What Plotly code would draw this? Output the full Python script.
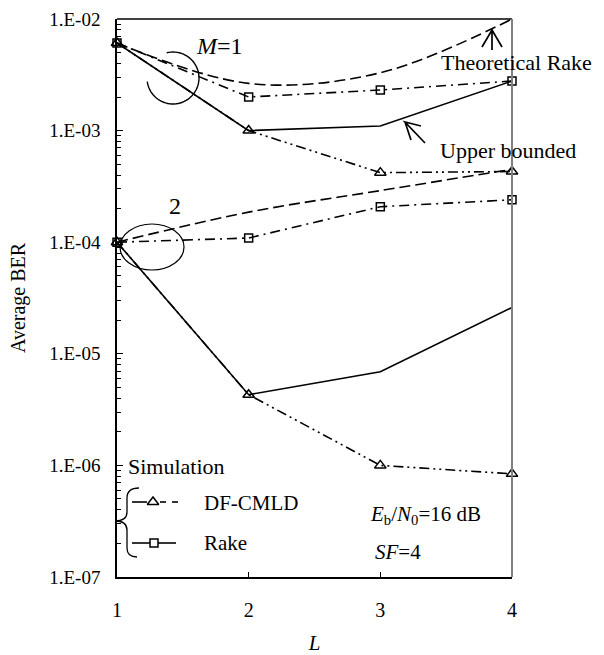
import numpy as np
import plotly.graph_objects as go

# ---------------- data ----------------
L = [1, 2, 3, 4]
# M = 1
theo_rake_m1 = [6.1e-3, 2.65e-3, 3.3e-3, 1.0e-2]
upper_m1 = [6.1e-3, 1.0e-3, 1.1e-3, 2.78e-3]
sim_rake_m1 = [6.1e-3, 2.0e-3, 2.31e-3, 2.78e-3]
sim_df_m1 = [6.1e-3, 1.0e-3, 4.2e-4, 4.3e-4]
# M = 2
theo_rake_m2 = [1.0e-4, 1.86e-4, 2.9e-4, 4.5e-4]
upper_m2 = [1.0e-4, 4.3e-6, 6.9e-6, 2.6e-5]
sim_rake_m2 = [1.0e-4, 1.09e-4, 2.08e-4, 2.4e-4]
sim_df_m2 = [1.0e-4, 4.3e-6, 1.0e-6, 8.4e-7]

ytick_vals = [1e-7, 1e-6, 1e-5, 1e-4, 1e-3, 1e-2]
ytick_text = ["1.E-07", "1.E-06", "1.E-05", "1.E-04", "1.E-03", "1.E-02"]
xtick_vals = [1, 2, 3, 4]

# ---------------- geometry helpers ----------------
W, H = 604, 655
PL, PR, PT, PB = 117, 512, 19, 577
FONT = "'Liberation Serif', 'Times New Roman', Times, serif"


def pp(x, y):
    return ((x - PL) / (PR - PL), (PB - y) / (PB - PT))


def path(cmds):
    out = []
    for c in cmds:
        op = c[0]
        pts = c[1:]
        s = op
        for i in range(0, len(pts), 2):
            u, v = pp(pts[i], pts[i + 1])
            s += f" {u:.5f},{v:.5f}"
        out.append(s)
    return " ".join(out)


fig = go.Figure()

DASH = "11px,5px"
DASHDOT = "10px,5px,2px,5px"
DASHDOTDOT = "10px,4px,2px,4px,2px,4px"
LW = 1.6


def add(y, dash, shape="linear", marker=None):
    kw = {}
    if marker:
        kw["marker"] = dict(symbol=marker[0], size=marker[1], color="black",
                            line=dict(width=1.5, color="black"))
        mode = "lines+markers"
    else:
        mode = "lines"
    fig.add_trace(go.Scatter(x=L, y=y, mode=mode,
                             line=dict(color="black", width=LW, dash=dash, shape=shape),
                             cliponaxis=False, showlegend=False, **kw))


for grp in [(theo_rake_m1, upper_m1, sim_rake_m1, sim_df_m1),
            (theo_rake_m2, upper_m2, sim_rake_m2, sim_df_m2)]:
    th, up, sr, sd = grp
    add(th, DASH, shape="spline")
    add(up, "solid")
    add(sr, DASHDOT, marker=("square-open", 8))
    add(sd, DASHDOTDOT, marker=("triangle-up-open", 10))

# legend sample markers on an overlay axis (paper-like 0..1)
lx_tri, ly_tri = pp(153, 502)
lx_sq, ly_sq = pp(154, 543)
fig.add_trace(go.Scatter(x=[lx_tri], y=[ly_tri], xaxis="x2", yaxis="y2", mode="markers",
                         marker=dict(symbol="triangle-up-open", size=10, color="black",
                                     line=dict(width=1.5, color="black")),
                         cliponaxis=False, showlegend=False))
fig.add_trace(go.Scatter(x=[lx_sq], y=[ly_sq], xaxis="x2", yaxis="y2", mode="markers",
                         marker=dict(symbol="square-open", size=8, color="black",
                                     line=dict(width=1.5, color="black")),
                         cliponaxis=False, showlegend=False))

shapes = []


def line_shape(x0, y0, x1, y1, width=1.6, color="black"):
    a = pp(x0, y0)
    b = pp(x1, y1)
    shapes.append(dict(type="line", xref="paper", yref="paper",
                       x0=a[0], y0=a[1], x1=b[0], y1=b[1],
                       line=dict(color=color, width=width)))


# frame: top black, right gray
line_shape(PL, PT, PR, PT, width=1.5)
line_shape(PR, PT, PR, PB, width=2, color="#808080")

# legend lines
line_shape(132, 502, 147, 502)
line_shape(160, 502, 166, 502)
line_shape(172, 502, 178, 502)
line_shape(132, 543, 150, 543)
line_shape(158, 543, 176, 543)

# brace
shapes.append(dict(type="path", xref="paper", yref="paper",
                   path=path([("M", 139, 488), ("Q", 127, 488, 127, 498), ("L", 127, 512),
                              ("Q", 127, 521, 115, 521), ("Q", 127, 521, 127, 530),
                              ("L", 127, 548), ("Q", 127, 557, 137, 557)]),
                   line=dict(color="black", width=1.3)))

# M=1 open circle arc
cx, cy, r = 173, 78, 26
ang = np.deg2rad(np.linspace(188, 464, 60))
arc = [("M", cx + r * np.cos(ang[0]), cy - r * np.sin(ang[0]))]
for a in ang[1:]:
    arc.append(("L", cx + r * np.cos(a), cy - r * np.sin(a)))
shapes.append(dict(type="path", xref="paper", yref="paper", path=path(arc),
                   line=dict(color="black", width=1.4)))

# M=2 ellipse
e0 = pp(120, 270)
e1 = pp(184, 224)
shapes.append(dict(type="circle", xref="paper", yref="paper",
                   x0=e0[0], y0=e0[1], x1=e1[0], y1=e1[1],
                   line=dict(color="black", width=1.2)))

# arrows
shapes.append(dict(type="path", xref="paper", yref="paper",
                   path=path([("M", 492, 50), ("L", 492, 30), ("M", 482, 47), ("L", 492, 30),
                              ("L", 502, 47)]),
                   line=dict(color="black", width=1.7)))
shapes.append(dict(type="path", xref="paper", yref="paper",
                   path=path([("M", 425, 143), ("L", 405, 122), ("L", 421, 126),
                              ("M", 405, 122), ("L", 411, 140)]),
                   line=dict(color="black", width=1.7)))

annotations = []


def text(t, x, y, size=20, xanchor="center"):
    u, v = pp(x, y)
    annotations.append(dict(text=t, x=u, y=v, xref="paper", yref="paper",
                            xanchor=xanchor, yanchor="middle", showarrow=False,
                            font=dict(family=FONT, size=size, color="black")))


text("<i>M</i>=1", 219, 46, size=24)
text("2", 175, 206, size=24)
text("Theoretical Rake", 516, 63, size=22)
text("Upper bounded", 508, 150, size=22)
text("Simulation", 126, 466, size=22, xanchor="left")
text("DF-CMLD", 202, 503, size=21, xanchor="left")
text("Rake", 202, 543, size=21, xanchor="left")
text("<i>E</i><sub>b</sub>/<i>N</i><sub>0</sub>=16 dB", 368, 515, size=21, xanchor="left")
text("<i>SF</i>=4", 373, 552, size=21, xanchor="left")

fig.update_layout(
    width=W, height=H,
    margin=dict(l=PL, r=W - PR, t=PT, b=H - PB, autoexpand=False),
    paper_bgcolor="white", plot_bgcolor="white",
    font=dict(family=FONT, color="black"),
    shapes=shapes, annotations=annotations,
    xaxis=dict(range=[1, 4], tickvals=xtick_vals, ticks="inside", ticklen=5,
               tickcolor="black", showgrid=False, zeroline=False, automargin=False,
               showline=True, linecolor="black", linewidth=1.5,
               tickfont=dict(family=FONT, size=20, color="black"),
               ticklabelstandoff=14,
               title=dict(text="<i>L</i>", font=dict(family=FONT, size=21, color="black"),
                          standoff=24)),
    yaxis=dict(type="log", range=[-7, -2], tickvals=ytick_vals, ticktext=ytick_text,
               ticks="inside", ticklen=6, tickcolor="black", showgrid=False,
               zeroline=False, showline=True, linecolor="black", linewidth=1.5,
               automargin=False,
               minor=dict(ticks="inside", ticklen=4, tickcolor="black", dtick="D1",
                          showgrid=False),
               tickfont=dict(family=FONT, size=19, color="black"),
               ticklabelstandoff=11,
               title=dict(text="Average BER", font=dict(family=FONT, size=20, color="black"),
                          standoff=18)),
    xaxis2=dict(range=[0, 1], overlaying="x", visible=False),
    yaxis2=dict(range=[0, 1], overlaying="y", visible=False),
)

fig.write_html("out.html", post_script="document.body.style.margin='0';",
               config={"displayModeBar": False})
